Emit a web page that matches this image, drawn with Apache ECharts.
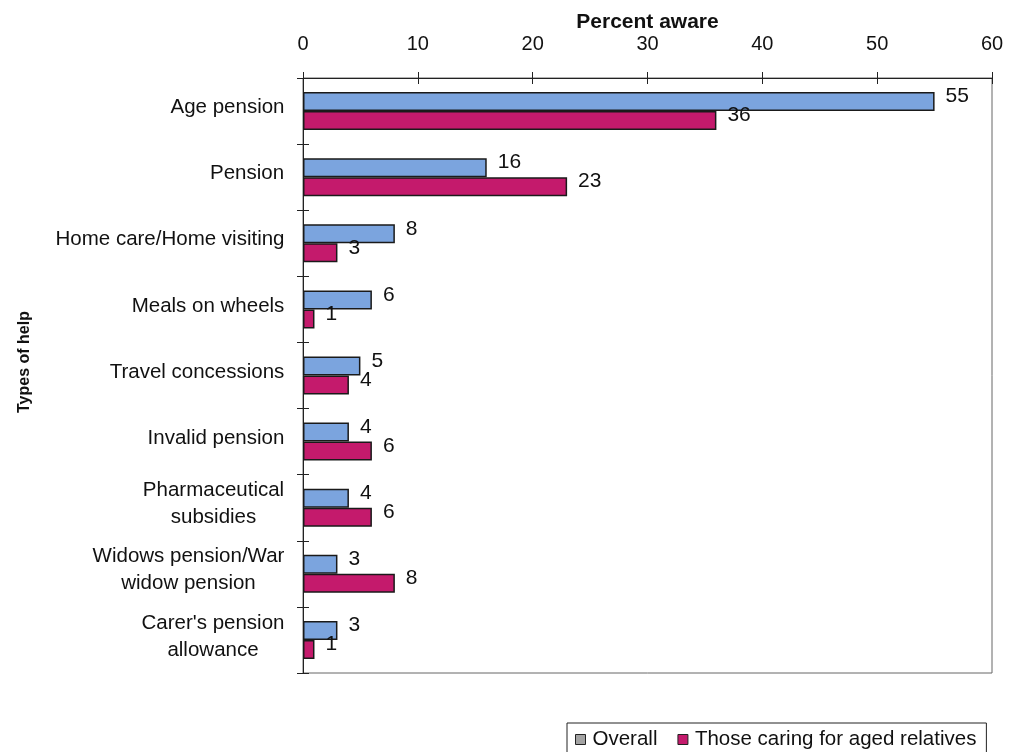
<!DOCTYPE html>
<html>
<head>
<meta charset="utf-8">
<title>Awareness of types of help</title>
<script src="https://cdn.jsdelivr.net/npm/echarts@6/dist/echarts.min.js"></script>
<style>
  html, body { margin: 0; padding: 0; background: #ffffff; }
  #chart { width: 1009px; height: 752px; }
</style>
</head>
<body>
<div id="chart"></div>
<script>
// Types of help, top to bottom
const categories = [
  'Age pension',
  'Pension',
  'Home care/Home visiting',
  'Meals on wheels',
  'Travel concessions',
  'Invalid pension',
  'Pharmaceutical\nsubsidies',
  'Widows pension/War\nwidow pension',
  "Carer's pension\nallowance"
];

// Percent aware of each type of help
const overall = [55, 16, 8, 6, 5, 4, 4, 3, 3];
const caring = [36, 23, 3, 1, 4, 6, 6, 8, 1];

const seriesNames = ['Overall', 'Those caring for aged relatives'];

const FONT = '"Liberation Sans", Arial, Helvetica, sans-serif';
const CAT_FS = 20.5;

// Multi-line category labels: lines centred on each other, block right-aligned.
const measureCtx = document.createElement('canvas').getContext('2d');
measureCtx.font = CAT_FS + 'px ' + FONT;
const rich = {};
categories.forEach(function (c, i) {
  const lines = c.split('\n');
  let w = 0;
  lines.forEach(function (l) { w = Math.max(w, measureCtx.measureText(l).width); });
  rich['c' + i] = {
    width: Math.ceil(w) + 1,
    align: 'center',
    fontSize: CAT_FS,
    fontFamily: FONT,
    color: '#111',
    lineHeight: 27
  };
});

const chart = echarts.init(document.getElementById('chart'), null, { renderer: 'canvas' });

const valueAxisBase = {
  type: 'value',
  position: 'top',
  min: 0,
  max: 60,
  interval: 10,
  splitLine: { show: false }
};

const labelStyle = {
  show: true,
  position: 'right',
  distance: 11,
  offset: [0, -5],
  fontSize: 21,
  fontFamily: FONT,
  color: '#111'
};

chart.setOption({
  backgroundColor: '#ffffff',
  animation: false,
  grid: {
    left: 303,
    right: 17,
    top: 78,
    bottom: 79,
    show: true,
    borderColor: '#666',
    borderWidth: 1,
    backgroundColor: 'transparent'
  },
  legend: {
    left: 567,
    top: 723,
    orient: 'horizontal',
    itemWidth: 10,
    itemHeight: 10,
    itemGap: 20,
    padding: [6, 10, 6, 8],
    borderColor: '#222',
    borderWidth: 1,
    textStyle: { fontSize: 20.5, fontFamily: FONT, color: '#111', padding: [0, 0, 0, 2] },
    data: [
      { name: seriesNames[0], icon: 'rect', itemStyle: { color: '#a3a3a3', borderColor: '#222', borderWidth: 1 } },
      { name: seriesNames[1], icon: 'rect', itemStyle: { color: '#c41a6c', borderColor: '#222', borderWidth: 1 } }
    ]
  },
  xAxis: [
    Object.assign({}, valueAxisBase, {
      name: 'Percent aware',
      nameLocation: 'middle',
      nameGap: 45,
      nameMoveOverlap: false,
      nameTextStyle: { fontSize: 21, fontWeight: 'bold', fontFamily: FONT, color: '#111' },
      axisLine: { show: true, lineStyle: { color: '#222', width: 1 } },
      axisTick: { show: true, inside: false, length: 6, lineStyle: { color: '#222' } },
      axisLabel: { show: true, margin: 24, fontSize: 20, fontFamily: FONT, color: '#111' }
    }),
    Object.assign({}, valueAxisBase, {
      axisLine: { show: false },
      axisTick: { show: true, inside: true, length: 6, lineStyle: { color: '#222' } },
      axisLabel: { show: false }
    })
  ],
  yAxis: [
    {
      type: 'category',
      data: categories,
      inverse: true,
      axisLine: { show: true, lineStyle: { color: '#222', width: 1 } },
      axisTick: { show: true, inside: false, length: 6, lineStyle: { color: '#222' } },
      axisLabel: {
        margin: 18,
        padding: [0, 0, 7, 0],
        formatter: function (value, index) {
          return value.split('\n').map(function (l) { return '{c' + index + '|' + l + '}'; }).join('\n');
        },
        rich: rich
      }
    },
    {
      type: 'category',
      data: categories,
      inverse: true,
      position: 'left',
      axisLine: { show: false },
      axisTick: { show: true, inside: true, length: 6, lineStyle: { color: '#222' } },
      axisLabel: { show: false }
    }
  ],
  graphic: [
    {
      type: 'text',
      x: 25,
      y: 362,
      rotation: Math.PI / 2,
      style: {
        text: 'Types of help',
        fontSize: 16,
        fontWeight: 'bold',
        fontFamily: FONT,
        fill: '#111',
        align: 'center',
        verticalAlign: 'middle'
      }
    }
  ],
  series: [
    {
      name: seriesNames[0],
      type: 'bar',
      xAxisIndex: 0,
      yAxisIndex: 0,
      data: overall,
      barWidth: 19,
      barGap: '0%',
      itemStyle: { color: '#7ba4de', borderColor: '#1a1a1a', borderWidth: 1.5 },
      label: labelStyle
    },
    {
      name: seriesNames[1],
      type: 'bar',
      xAxisIndex: 0,
      yAxisIndex: 0,
      data: caring,
      barWidth: 19,
      barGap: '0%',
      itemStyle: { color: '#c41a6c', borderColor: '#1a1a1a', borderWidth: 1.5 },
      label: labelStyle
    }
  ]
});
</script>
</body>
</html>
